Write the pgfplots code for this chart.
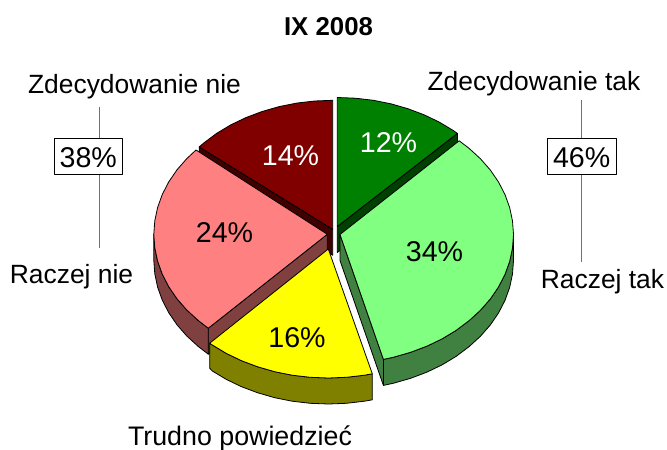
\documentclass[border=0pt]{standalone}
\usepackage{fontspec}
\setmainfont{Liberation Sans}
\usepackage{pgfplots}
\pgfplotsset{compat=1.18}
\definecolor{gA}{HTML}{008000}
\definecolor{gAs}{HTML}{004000}
\definecolor{gB}{HTML}{80FF80}
\definecolor{gBs}{HTML}{408040}
\definecolor{yA}{HTML}{FFFF00}
\definecolor{yAs}{HTML}{808000}
\definecolor{pA}{HTML}{FF8080}
\definecolor{pAs}{HTML}{804040}
\definecolor{rA}{HTML}{800000}
\definecolor{rAs}{HTML}{400000}
\definecolor{brk}{HTML}{707070}
\tikzset{lab/.style={font=\fontsize{26.4}{30}\selectfont,inner sep=0pt,anchor=base},
  pct/.style={font=\fontsize{28.6}{30}\selectfont,inner sep=0pt,anchor=base}}
\begin{document}
\begin{tikzpicture}
\useasboundingbox (0,0) rectangle (667pt,450pt);
\begin{axis}[
  at={(0,0)},anchor=south west,
  scale only axis,width=667pt,height=450pt,
  xmin=0,xmax=667,ymin=0,ymax=450,y dir=reverse,
  hide axis,clip=false,
  every axis plot/.append style={no markers,line width=0.8pt,line join=round,draw=black},
]
% dark green 12%
\addplot[fill=gAs] coordinates {(337.3,226.5)(457.4,133.4)(457.4,159.4)(337.3,252.5)(337.3,226.5)};
\addplot[fill=gA] coordinates {(337.3,226.5)(337.3,97.5)(355.4,98.2)(373.4,100.3)(390.9,103.8)(407.9,108.7)(424.1,114.8)(439.3,122.1)(453.4,130.6)(457.4,133.4)(337.3,226.5)};
% dark red 14%
\addplot[fill=rAs] coordinates {(332.7,229.3)(199.2,146.9)(199.2,172.9)(332.7,255.3)(332.7,229.3)};
\addplot[fill=rA] coordinates {(332.7,229.3)(332.7,100.3)(314.6,101.0)(296.6,103.1)(279.1,106.6)(262.1,111.5)(245.9,117.6)(230.7,124.9)(216.6,133.4)(203.8,143.0)(199.2,146.9)(332.7,229.3)};
% pink 24%
\addplot[fill=pAs] coordinates {(327.3,234.3)(208.3,328.2)(208.3,354.2)(327.3,260.3)(327.3,234.3)};
\addplot[fill=pAs] coordinates {(153.8,234.3)(154.8,247.8)(157.6,261.1)(162.3,274.2)(168.8,286.8)(177.0,298.8)(186.9,310.1)(198.4,320.6)(208.3,328.2)(208.3,354.2)(198.4,346.6)(186.9,336.1)(177.0,324.8)(168.8,312.8)(162.3,300.2)(157.6,287.1)(154.8,273.8)(153.8,260.3)(153.8,234.3)};
\addplot[fill=pA] coordinates {(327.3,234.3)(196.0,150.0)(186.9,158.5)(177.0,169.8)(168.8,181.8)(162.3,194.4)(157.6,207.5)(154.8,220.8)(153.8,234.3)(154.8,247.8)(157.6,261.1)(162.3,274.2)(168.8,286.8)(177.0,298.8)(186.9,310.1)(198.4,320.6)(208.3,328.2)(327.3,234.3)};
% light green 34%
\addplot[fill=gBs] coordinates {(340,234.5)(383.4,359.4)(383.4,385.4)(340,260.5)(340,234.5)};
\addplot[fill=gBs] coordinates {(513.5,234.5)(512.5,248.0)(509.7,261.3)(505.0,274.4)(498.5,287.0)(490.3,299.0)(480.4,310.3)(468.9,320.8)(456.1,330.4)(442.0,338.9)(426.8,346.2)(410.6,352.3)(393.6,357.2)(383.4,359.4)(383.4,385.4)(393.6,383.2)(410.6,378.3)(426.8,372.2)(442.0,364.9)(456.1,356.4)(468.9,346.8)(480.4,336.3)(490.3,325.0)(498.5,313.0)(505.0,300.4)(509.7,287.3)(512.5,274.0)(513.5,260.5)(513.5,234.5)};
\addplot[fill=gB] coordinates {(340,234.5)(459.2,140.8)(468.9,148.2)(480.4,158.7)(490.3,170.0)(498.5,182.0)(505.0,194.6)(509.7,207.7)(512.5,221.0)(513.5,234.5)(512.5,248.0)(509.7,261.3)(505.0,274.4)(498.5,287.0)(490.3,299.0)(480.4,310.3)(468.9,320.8)(456.1,330.4)(442.0,338.9)(426.8,346.2)(410.6,352.3)(393.6,357.2)(383.4,359.4)(340,234.5)};
% yellow 16%
\addplot[fill=yAs] coordinates {(372.3,373.8)(364.4,375.2)(346.4,377.3)(328.3,378)(310.2,377.3)(292.2,375.2)(274.7,371.7)(257.7,366.8)(241.5,360.7)(226.3,353.4)(212.2,344.9)(209.7,343.2)(209.7,368.2)(212.2,370.9)(226.3,379.4)(241.5,386.7)(257.7,392.8)(274.7,397.7)(292.2,401.2)(310.2,403.3)(328.3,404)(346.4,403.3)(364.4,401.2)(372.3,399.8)(372.3,373.8)};
\addplot[fill=yA] coordinates {(328.3,249)(372.3,373.8)(364.4,375.2)(346.4,377.3)(328.3,378)(310.2,377.3)(292.2,375.2)(274.7,371.7)(257.7,366.8)(241.5,360.7)(226.3,353.4)(212.2,344.9)(209.7,343.2)(328.3,249)};
% bracket lines
\addplot[draw=brk,line width=1.2pt] coordinates {(99.5,106.7)(99.5,248)};
\addplot[draw=brk,line width=1.2pt] coordinates {(581.7,100)(581.7,262)};
\addplot[fill=white,line width=1pt] coordinates {(54,138)(122.7,138)(122.7,174)(54,174)(54,138)};
\addplot[fill=white,line width=1pt] coordinates {(547.3,138)(616,138)(616,174)(547.3,174)(547.3,138)};
% texts
\node[pct] at (axis cs:88.3,167.7) {38\%};
\node[pct] at (axis cs:581.7,167.7) {46\%};
\node[lab,font=\fontsize{25.8}{30}\selectfont\bfseries] at (axis cs:328.5,35) {IX 2008};
\node[lab] at (axis cs:134.5,93.3) {Zdecydowanie nie};
\node[lab] at (axis cs:534,90.7) {Zdecydowanie tak};
\node[lab] at (axis cs:71.5,283.3) {Raczej nie};
\node[lab] at (axis cs:602.5,288.3) {Raczej tak};
\node[lab,font=\fontsize{26.8}{30}\selectfont] at (axis cs:240,445) {Trudno powiedzieć};
\node[pct,text=white] at (axis cs:290.5,165) {14\%};
\node[pct,text=white] at (axis cs:388.5,152) {12\%};
\node[pct] at (axis cs:434.5,261) {34\%};
\node[pct] at (axis cs:224.5,242.5) {24\%};
\node[pct] at (axis cs:297,347.5) {16\%};
\end{axis}
\end{tikzpicture}
\end{document}
